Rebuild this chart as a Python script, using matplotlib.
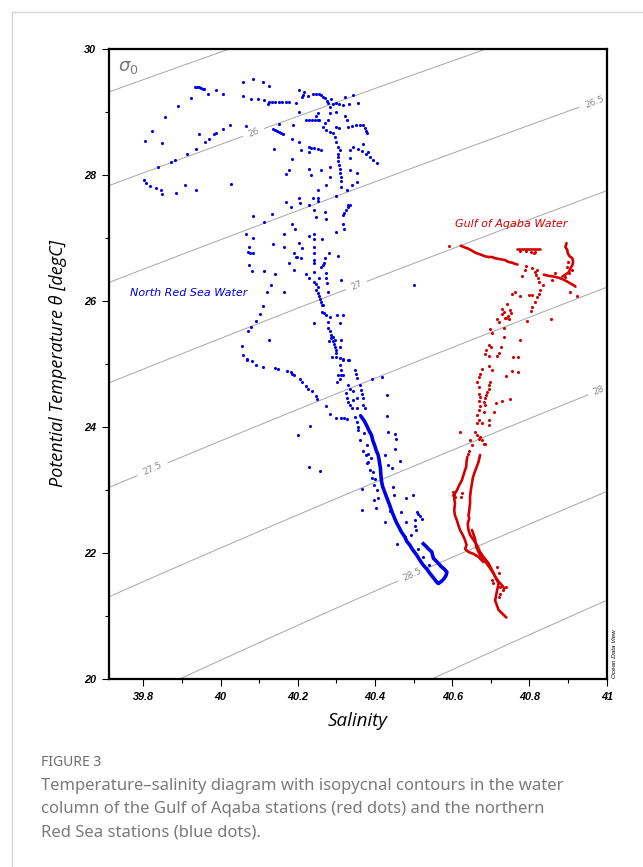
import numpy as np
import matplotlib.pyplot as plt
from matplotlib.lines import Line2D
from matplotlib.ticker import MultipleLocator, FuncFormatter

# northern Red Sea stations (salinity, potential temperature)
nrs_pts = np.array([
    (39.804, 28.54), (39.821, 28.70), (39.848, 28.51), (39.855, 28.92), (39.890, 29.10), (39.923, 29.23),
    (39.933, 29.39), (39.939, 29.39), (39.944, 29.39), (39.949, 29.38), (39.955, 29.37), (39.957, 29.36),
    (39.966, 29.29), (39.988, 29.35), (40.005, 29.28), (40.057, 29.48), (40.085, 29.52), (40.109, 29.47),
    (40.126, 29.42), (40.057, 29.25), (40.079, 29.21), (40.098, 29.20), (40.113, 29.19), (40.122, 29.12),
    (40.126, 29.16), (40.134, 29.16), (40.142, 29.16), (40.152, 29.16), (40.160, 29.16), (40.168, 29.16),
    (40.178, 29.16), (40.196, 29.14), (40.202, 29.00), (40.204, 29.35), (40.212, 29.24), (40.215, 29.32),
    (39.801, 27.92), (39.806, 27.87), (39.817, 27.83), (39.833, 27.80), (39.846, 27.77), (39.849, 27.70),
    (39.885, 27.72), (39.908, 27.84), (39.936, 27.76), (40.027, 27.86),
    (39.838, 28.12), (39.871, 28.21), (39.882, 28.24), (39.914, 28.33), (39.936, 28.41), (39.944, 28.65),
    (39.960, 28.53), (39.970, 28.58), (39.983, 28.65), (39.989, 28.66), (40.007, 28.73), (40.024, 28.79),
    (40.066, 28.78),
    (40.135, 28.73), (40.141, 28.71), (40.146, 28.70), (40.151, 28.68), (40.156, 28.67), (40.161, 28.65),
    (40.150, 28.81), (40.185, 28.58), (40.204, 28.53), (40.139, 28.42), (40.185, 28.25), (40.176, 28.08),
    (40.168, 28.02), (40.230, 28.09), (40.235, 28.43), (40.252, 28.41), (40.261, 28.40), (40.261, 28.08),
    (40.252, 27.76), (40.274, 27.84), (40.282, 27.97),
    (40.239, 29.29), (40.246, 29.29), (40.254, 29.29), (40.261, 29.27), (40.265, 29.24), (40.269, 29.22),
    (40.275, 29.17), (40.278, 29.14), (40.282, 29.08), (40.290, 29.13), (40.298, 29.14), (40.306, 29.13),
    (40.213, 29.27), (40.226, 29.25), (40.287, 29.20), (40.321, 29.24), (40.343, 29.27), (40.356, 29.14),
    (40.317, 29.11), (40.332, 29.12), (40.300, 29.00), (40.282, 28.98), (40.252, 28.98), (40.248, 28.93),
    (40.222, 28.88), (40.229, 28.88), (40.237, 28.88), (40.245, 28.88), (40.251, 28.88), (40.256, 28.88),
    (40.278, 28.87), (40.269, 28.82), (40.265, 28.77), (40.274, 28.71), (40.282, 28.69), (40.291, 28.66),
    (40.295, 28.61), (40.300, 28.53), (40.304, 28.45), (40.308, 28.40), (40.300, 28.77), (40.306, 28.74),
    (40.330, 28.77), (40.339, 28.78), (40.350, 28.79), (40.360, 28.79), (40.369, 28.79), (40.373, 28.74),
    (40.376, 28.70), (40.378, 28.66), (40.321, 28.93), (40.326, 28.87), (40.304, 28.34),
    (40.304, 28.29), (40.305, 28.22), (40.307, 28.16), (40.308, 28.10), (40.309, 28.03), (40.311, 27.97),
    (40.311, 27.90), (40.313, 27.81), (40.230, 28.44), (40.243, 28.43), (40.334, 28.40), (40.343, 28.45),
    (40.356, 28.42), (40.365, 28.38), (40.376, 28.33), (40.386, 28.29), (40.395, 28.24), (40.404, 28.19),
    (40.369, 28.50), (40.382, 28.37), (40.334, 28.27), (40.334, 28.08), (40.352, 28.03), (40.352, 27.89),
    (40.339, 27.84), (40.326, 27.76), (40.282, 28.13), (40.234, 28.00), (40.209, 28.40), (40.230, 28.37),
    (40.187, 28.79), (40.204, 27.63), (40.183, 27.50), (40.230, 27.52), (40.252, 27.63), (40.300, 27.66),
    (40.330, 27.52), (40.170, 27.58),
    (40.083, 27.35), (40.111, 27.26), (40.133, 27.39), (40.206, 27.55), (40.238, 27.63), (40.251, 27.59),
    (40.243, 27.44), (40.269, 27.41), (40.248, 27.34), (40.272, 27.31), (40.334, 27.53), (40.329, 27.49),
    (40.324, 27.44), (40.319, 27.40), (40.316, 27.37), (40.317, 27.22), (40.319, 27.15), (40.300, 27.10),
    (40.066, 27.06), (40.085, 27.00), (40.074, 26.86), (40.072, 26.78), (40.077, 26.77), (40.083, 26.76),
    (40.074, 26.58), (40.080, 26.48), (40.111, 26.48), (40.142, 26.43), (40.131, 26.25), (40.119, 26.15),
    (40.109, 25.93), (40.103, 25.80), (40.092, 25.68), (40.079, 25.59), (40.072, 25.52), (40.054, 25.29),
    (40.059, 25.14), (40.067, 25.08), (40.080, 25.05), (40.124, 25.38), (40.163, 26.15), (40.135, 26.90),
    (40.165, 26.86), (40.163, 27.06), (40.185, 27.22), (40.193, 27.15), (40.189, 26.76), (40.196, 26.70),
    (40.198, 26.70), (40.207, 26.68), (40.176, 26.61), (40.191, 26.49), (40.204, 26.92), (40.211, 26.85),
    (40.230, 27.04), (40.243, 27.07), (40.241, 26.98), (40.262, 26.98), (40.243, 26.86), (40.243, 26.76),
    (40.243, 26.65), (40.241, 26.60), (40.220, 26.43), (40.230, 26.36), (40.241, 26.46), (40.254, 26.37),
    (40.243, 26.30), (40.246, 26.27), (40.251, 26.23), (40.274, 26.44), (40.274, 26.36), (40.275, 26.28),
    (40.269, 26.68), (40.261, 26.54), (40.264, 26.57), (40.267, 26.60), (40.280, 26.77), (40.304, 26.72),
    (40.313, 26.33), (40.248, 26.17), (40.252, 26.13), (40.254, 26.08), (40.257, 26.03), (40.259, 25.98),
    (40.262, 25.94), (40.265, 25.94), (40.278, 26.15), (40.262, 25.83), (40.268, 25.81), (40.274, 25.78),
    (40.241, 25.65), (40.282, 25.75), (40.277, 25.67), (40.302, 25.78), (40.317, 25.78), (40.308, 25.65),
    (40.277, 25.57), (40.282, 25.52), (40.285, 25.46), (40.287, 25.41), (40.290, 25.37), (40.293, 25.32),
    (40.295, 25.27), (40.298, 25.22), (40.299, 25.17), (40.290, 25.43), (40.280, 25.37), (40.295, 25.38),
    (40.313, 25.38), (40.308, 25.27), (40.289, 25.12), (40.317, 25.06), (40.332, 25.06), (40.500, 26.25),
    (40.068, 25.06), (40.092, 24.98), (40.109, 24.96), (40.142, 24.94), (40.148, 24.92), (40.172, 24.89),
    (40.181, 24.87), (40.186, 24.85), (40.191, 24.83), (40.206, 24.76), (40.211, 24.71), (40.220, 24.66),
    (40.227, 24.61), (40.237, 24.57), (40.248, 24.50), (40.250, 24.44), (40.273, 24.33), (40.283, 24.21),
    (40.300, 24.15), (40.313, 24.14), (40.320, 24.14), (40.327, 24.13), (40.232, 24.02), (40.200, 23.88),
    (40.230, 23.37), (40.257, 23.30),
    (40.300, 25.12), (40.308, 25.10), (40.318, 25.08), (40.330, 25.06), (40.308, 24.98), (40.311, 24.90),
    (40.313, 24.83), (40.317, 24.83), (40.304, 24.83), (40.301, 24.72), (40.308, 24.77), (40.347, 24.90),
    (40.350, 24.84), (40.352, 24.78), (40.330, 24.67), (40.336, 24.61), (40.324, 24.54), (40.327, 24.47),
    (40.343, 24.57), (40.352, 24.47), (40.360, 24.67), (40.363, 24.59), (40.365, 24.52), (40.369, 24.46),
    (40.330, 24.40), (40.334, 24.35), (40.339, 24.30), (40.352, 24.30), (40.360, 24.19), (40.369, 24.35),
    (40.373, 24.30), (40.391, 24.76), (40.419, 24.79), (40.430, 24.51), (40.430, 24.17), (40.434, 23.92),
    (40.451, 23.89), (40.454, 23.81), (40.451, 23.65), (40.464, 23.47), (40.443, 23.35), (40.367, 23.02),
    (40.365, 22.69), (40.402, 22.72), (40.397, 22.85), (40.427, 22.49), (40.438, 22.67), (40.479, 22.87),
    (40.497, 22.93), (40.508, 22.66), (40.512, 22.62), (40.516, 22.59), (40.521, 22.55), (40.503, 22.52),
    (40.504, 22.44), (40.505, 22.37), (40.464, 22.37), (40.477, 22.26), (40.456, 22.15),
    (40.355, 23.95), (40.360, 23.79), (40.368, 23.63), (40.376, 23.56), (40.381, 23.44), (40.386, 23.32),
    (40.391, 23.19), (40.397, 23.08), (40.404, 23.00), (40.371, 23.90), (40.379, 23.71), (40.389, 23.51),
    (40.352, 24.08), (40.357, 24.00), (40.347, 24.16), (40.343, 24.43),
    (40.381, 23.58), (40.378, 23.43), (40.394, 23.29), (40.400, 23.17), (40.408, 22.87),
    (40.425, 23.56), (40.433, 23.40), (40.446, 23.05), (40.450, 22.92), (40.467, 22.66), (40.480, 22.50),
    (40.493, 22.29), (40.510, 22.07), (40.523, 21.94), (40.540, 21.81),
])

# dense deep branch of the Red Sea profiles
nrs_trunk = np.array([
    (40.365, 24.16), (40.371, 24.11), (40.378, 24.03), (40.384, 23.95), (40.391, 23.87), (40.394, 23.79),
    (40.399, 23.71), (40.403, 23.63), (40.408, 23.56), (40.411, 23.46), (40.414, 23.34), (40.415, 23.24),
    (40.417, 23.13), (40.420, 23.05), (40.425, 22.97), (40.431, 22.87), (40.438, 22.76), (40.443, 22.67),
    (40.451, 22.55), (40.456, 22.48), (40.464, 22.39), (40.469, 22.33), (40.477, 22.26), (40.482, 22.19),
    (40.490, 22.13), (40.498, 22.05), (40.508, 21.97), (40.516, 21.89), (40.525, 21.81), (40.534, 21.75),
    (40.542, 21.68), (40.550, 21.62), (40.560, 21.54), (40.564, 21.52), (40.573, 21.56), (40.579, 21.60),
    (40.584, 21.65), (40.586, 21.70), (40.579, 21.75), (40.571, 21.79), (40.561, 21.86), (40.551, 21.92),
    (40.547, 22.02), (40.538, 22.07), (40.532, 22.11), (40.525, 22.15),
])

# Gulf of Aqaba stations
goa_pts = np.array([
    (40.592, 26.87), (40.776, 26.79), (40.790, 26.79), (40.805, 26.78), (40.815, 26.78), (40.811, 26.76),
    (40.898, 26.54), (40.899, 26.62), (40.893, 26.39), (40.902, 26.44), (40.911, 26.50), (40.866, 26.44),
    (40.858, 26.33), (40.906, 26.15), (40.924, 26.08),
    (40.792, 26.56), (40.807, 26.52), (40.789, 26.49), (40.780, 26.40), (40.815, 26.46), (40.818, 26.41),
    (40.821, 26.36), (40.824, 26.31), (40.820, 26.49), (40.835, 26.25), (40.828, 26.17), (40.824, 26.12),
    (40.820, 26.07), (40.813, 25.99), (40.807, 25.91), (40.804, 25.85), (40.794, 25.69), (40.800, 26.10),
    (40.807, 26.10), (40.776, 26.08), (40.755, 26.11), (40.763, 26.15), (40.856, 25.71), (40.776, 25.39),
    (40.743, 25.95), (40.750, 25.86), (40.753, 25.81), (40.733, 25.83), (40.729, 25.80), (40.740, 25.73),
    (40.746, 25.71), (40.737, 25.74), (40.744, 25.76), (40.716, 25.71), (40.720, 25.67), (40.735, 25.58),
    (40.698, 25.55), (40.703, 25.49), (40.733, 25.43), (40.694, 25.30), (40.700, 25.27), (40.727, 25.27),
    (40.688, 25.23), (40.685, 25.16), (40.720, 25.17), (40.716, 25.13), (40.694, 25.13), (40.757, 25.11),
    (40.769, 25.12), (40.694, 24.97), (40.703, 24.90), (40.677, 24.92), (40.672, 24.85), (40.668, 24.80),
    (40.665, 24.72), (40.755, 24.89), (40.769, 24.88), (40.740, 24.81), (40.729, 25.87),
    (40.698, 24.72), (40.696, 24.67), (40.694, 24.61), (40.690, 24.56), (40.688, 24.51), (40.685, 24.46),
    (40.683, 24.40), (40.670, 24.64), (40.668, 24.53), (40.672, 24.48), (40.670, 24.42), (40.672, 24.33),
    (40.668, 24.27), (40.664, 24.19), (40.668, 24.11), (40.664, 24.06), (40.685, 24.35), (40.681, 24.24),
    (40.696, 24.11), (40.696, 24.03), (40.714, 24.38), (40.707, 24.24), (40.729, 24.42), (40.750, 24.44),
    (40.677, 24.06), (40.620, 23.92), (40.659, 23.93), (40.664, 23.87), (40.668, 23.82), (40.672, 23.85),
    (40.677, 23.79), (40.681, 23.73), (40.685, 23.74), (40.646, 23.79), (40.651, 23.71), (40.644, 23.63),
    (40.642, 23.58), (40.603, 22.97), (40.607, 22.89), (40.601, 22.92), (40.625, 22.95), (40.622, 22.89),
    (40.716, 21.78), (40.720, 21.68), (40.740, 21.47), (40.705, 21.52), (40.703, 21.57), (40.724, 21.47),
    (40.731, 21.41), (40.724, 21.36), (40.720, 21.31),
])

# continuous-looking runs of Gulf of Aqaba samples
goa_surface = [(40.622, 26.88), (40.629, 26.86), (40.642, 26.83), (40.651, 26.80), (40.659, 26.77),
               (40.668, 26.75), (40.677, 26.73), (40.685, 26.71), (40.694, 26.70), (40.703, 26.70),
               (40.711, 26.68), (40.720, 26.67), (40.729, 26.66), (40.737, 26.65), (40.746, 26.62),
               (40.755, 26.61), (40.763, 26.59), (40.769, 26.58)]
goa_surface2 = [(40.768, 26.82), (40.776, 26.82), (40.785, 26.82), (40.794, 26.82), (40.802, 26.82),
                (40.811, 26.82), (40.820, 26.82), (40.828, 26.82)]
goa_hook = [(40.896, 26.92), (40.893, 26.86), (40.898, 26.81), (40.899, 26.76), (40.904, 26.71),
            (40.911, 26.68), (40.913, 26.62), (40.911, 26.57), (40.906, 26.52), (40.902, 26.46),
            (40.893, 26.42), (40.885, 26.39)]
goa_branch = [(40.837, 26.42), (40.850, 26.40), (40.863, 26.39), (40.876, 26.37), (40.885, 26.35),
              (40.898, 26.31), (40.906, 26.28), (40.915, 26.25), (40.919, 26.23)]
goa_left = [(40.639, 23.53), (40.637, 23.45), (40.636, 23.37), (40.633, 23.32), (40.629, 23.24),
            (40.625, 23.16), (40.618, 23.08), (40.612, 23.00), (40.607, 22.95), (40.605, 22.87),
            (40.607, 22.79), (40.605, 22.68), (40.607, 22.60), (40.612, 22.52), (40.616, 22.44),
            (40.620, 22.37), (40.627, 22.29), (40.633, 22.21), (40.637, 22.13), (40.633, 22.07),
            (40.642, 22.02), (40.655, 21.99), (40.668, 21.94), (40.681, 21.86)]
goa_right = [(40.672, 23.56), (40.668, 23.45), (40.662, 23.35), (40.657, 23.27), (40.653, 23.19),
             (40.651, 23.11), (40.648, 23.00), (40.646, 22.89), (40.646, 22.79), (40.644, 22.68),
             (40.642, 22.60), (40.644, 22.55), (40.640, 22.47), (40.642, 22.37), (40.646, 22.29),
             (40.655, 22.21), (40.664, 22.13), (40.672, 22.02), (40.681, 21.94), (40.694, 21.84),
             (40.703, 21.73), (40.711, 21.63), (40.720, 21.55), (40.729, 21.49), (40.735, 21.44)]
goa_mid = [(40.651, 22.37), (40.659, 22.23), (40.662, 22.10), (40.672, 21.97), (40.689, 21.84),
           (40.707, 21.68), (40.720, 21.52), (40.716, 21.41), (40.711, 21.25), (40.720, 21.10),
           (40.740, 20.98)]
goa_strands = [goa_surface, goa_surface2, goa_hook, goa_branch, goa_left, goa_right, goa_mid]

plain_levels = [25.5, 29.0]
label_levels = [26.0, 26.5, 27.0, 27.5, 28.0, 28.5]

blue = '#0000e6'
red = '#d40000'


# UNESCO (1981) density at p=0, minus 1000
def sigma0(s, t):
    rw = (999.842594 + 6.793952e-2 * t - 9.095290e-3 * t**2 + 1.001685e-4 * t**3
          - 1.120083e-6 * t**4 + 6.536332e-9 * t**5)
    a = 0.824493 - 4.0899e-3 * t + 7.6438e-5 * t**2 - 8.2467e-7 * t**3 + 5.3875e-9 * t**4
    b = -5.72466e-3 + 1.0227e-4 * t - 1.6546e-6 * t**2
    return rw + a * s + b * s**1.5 + 4.8314e-4 * s**2 - 1000.0


W, H = 643, 867
fig = plt.figure(figsize=(W / 100, H / 100), dpi=100)
ax = fig.add_axes([108.7 / W, 1 - 679.3 / H, (606.7 - 108.7) / W, (679.3 - 49) / H])

ss, tt = np.meshgrid(np.linspace(39.6, 41.1, 300), np.linspace(19.5, 30.5, 300))
sig = sigma0(ss, tt)
ax.contour(ss, tt, sig, levels=plain_levels, colors='#a6a6a6', linewidths=0.7)
cs = ax.contour(ss, tt, sig, levels=label_levels, colors='#a6a6a6', linewidths=0.7)
ax.clabel(cs, fmt=lambda v: f'{v:g}', fontsize=6.5, colors='#8a8a8a', inline_spacing=4,
          manual=[(40.084, 28.69), (40.969, 29.16), (40.352, 26.24),
                  (39.824, 23.33), (40.979, 24.58), (40.499, 21.65)])

ax.scatter(nrs_pts[:, 0], nrs_pts[:, 1], s=5, color=blue, linewidths=0, zorder=3)
ax.plot(nrs_trunk[:, 0], nrs_trunk[:, 1], '-', color=blue, lw=2.6, zorder=3)
ax.scatter(goa_pts[:, 0], goa_pts[:, 1], s=5, color=red, linewidths=0, zorder=3)
for strand in goa_strands:
    st = np.array(strand)
    ax.plot(st[:, 0], st[:, 1], '-', color=red, lw=1.9, solid_capstyle='round', zorder=3)

ax.set_xlim(39.71, 41.0)
ax.set_ylim(20, 30)
ax.xaxis.set_major_locator(MultipleLocator(0.2))
ax.xaxis.set_minor_locator(MultipleLocator(0.1))
ax.yaxis.set_major_locator(MultipleLocator(2))
ax.yaxis.set_minor_locator(MultipleLocator(1))
ax.xaxis.set_major_formatter(FuncFormatter(lambda v, p: f'{round(v, 1):g}'))
ax.yaxis.set_major_formatter(FuncFormatter(lambda v, p: f'{round(v):g}'))
ax.tick_params(which='major', direction='out', length=5, width=0.8, pad=4)
ax.tick_params(which='minor', direction='out', length=3, width=0.8)
for lab in ax.get_xticklabels() + ax.get_yticklabels():
    lab.set_family('Liberation Sans')
    lab.set_fontweight('bold')
    lab.set_fontstyle('italic')
    lab.set_fontsize(7.8)
for sp in ax.spines.values():
    sp.set_linewidth(1.6)

ax.text(0.019, 0.971, r'$\sigma_{\mathit{0}}$', transform=ax.transAxes, fontsize=13,
        color='#7a7a7a', va='center')
ax.text(39.766, 26.13, 'North Red Sea Water', color=blue, style='italic', fontsize=8, va='center')
ax.text(40.607, 27.22, 'Gulf of Aqaba Water', color=red, style='italic', fontsize=8, va='center')

fig.text(58 / W, 1 - 364 / H, 'Potential Temperature \u03b8 [degC]', rotation=90, ha='center',
         va='center', fontsize=13, style='italic', family='Open Sans')
fig.text(357.7 / W, 1 - 721 / H, 'Salinity', ha='center', va='center', fontsize=13.5,
         style='italic', family='Open Sans')
fig.text(614 / W, 1 - 678 / H, 'Ocean Data View', rotation=90, ha='center', va='bottom',
         fontsize=4.5, style='italic', family='Liberation Sans')

# card frame and caption
fig.add_artist(Line2D([11.7 / W, 11.7 / W], [0, 1 - 11.7 / H], transform=fig.transFigure,
                      color='#d6d6d6', lw=1))
fig.add_artist(Line2D([11.7 / W, 1], [1 - 11.7 / H, 1 - 11.7 / H], transform=fig.transFigure,
                      color='#d6d6d6', lw=1))
fig.text(41 / W, 1 - 762 / H, 'FIGURE 3', fontsize=10, color='#6e6e6e', va='center', family='Noto Sans')
caption = ['Temperature\u2013salinity diagram with isopycnal contours in the water',
           'column of the Gulf of Aqaba stations (red dots) and the northern',
           'Red Sea stations (blue dots).']
for i, line in enumerate(caption):
    fig.text(41 / W, 1 - (786 + 23.3 * i) / H, line, fontsize=12, color='#7a7a7a', va='center',
             family='Noto Sans')

fig.savefig('out.png', dpi=100)
